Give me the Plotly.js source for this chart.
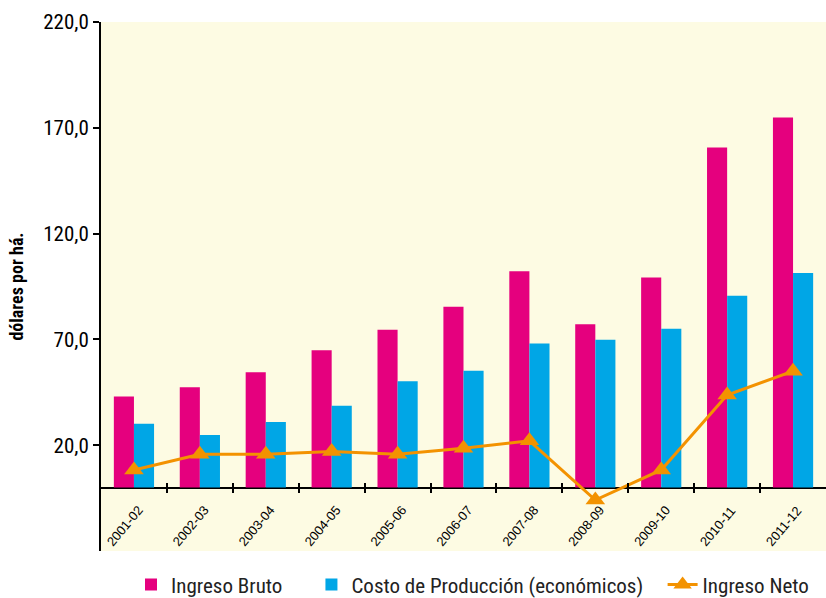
<!DOCTYPE html>
<html>
<head>
<meta charset="utf-8">
<script src="https://cdn.plot.ly/plotly-3.0.1.min.js"></script>
<style>html,body{margin:0;padding:0;background:#fff;}#chart{width:826px;height:598px;}</style>
</head>
<body>
<div id="chart"></div>
<script>
const categories = ["2001-02","2002-03","2003-04","2004-05","2005-06","2006-07","2007-08","2008-09","2009-10","2010-11","2011-12"];
const ingresoBruto = [43.0, 47.4, 54.5, 64.9, 74.6, 85.4, 102.2, 77.2, 99.2, 160.7, 174.9];
const costoProduccion = [30.1, 24.8, 31.0, 38.6, 50.2, 55.2, 68.1, 69.8, 75.0, 90.6, 101.4];
const ingresoNeto = [8.3, 15.7, 15.7, 17.0, 15.7, 18.6, 22.1, -5.9, 8.3, 43.7, 55.0];
const yTicks = [-30, 20, 70, 120, 170, 220];
const seriesNames = ["Ingreso Bruto", "Costo de Producción (económicos)", "Ingreso Neto"];

const PINK = "#E5007E", BLUE = "#00A6E6", ORANGE = "#F39200", CREAM = "#FDFBE3";
const FONT = "'Roboto Condensed', Roboto, 'Liberation Sans', sans-serif";
const NB = "\u00a0";

const boundaryTicks = categories.slice(1).map((c, i) => i + 0.5);

const traces = [
  {type: "bar", name: seriesNames[0] + NB.repeat(5), x: categories, y: ingresoBruto,
   marker: {color: PINK}, hoverinfo: "y"},
  {type: "bar", name: seriesNames[1] + NB.repeat(3), x: categories, y: costoProduccion,
   marker: {color: BLUE}, hoverinfo: "y"},
  {type: "scatter", mode: "lines+markers", name: seriesNames[2], x: categories, y: ingresoNeto,
   line: {color: ORANGE, width: 3}, marker: {symbol: "triangle-up", size: 17, color: ORANGE}},
  {type: "scatter", mode: "markers", x: categories.map((c, i) => i), y: ingresoNeto,
   xaxis: "x2", marker: {opacity: 0}, showlegend: false, hoverinfo: "skip"}
];

const layout = {
  width: 826, height: 598,
  margin: {l: 101, r: 0, t: 22, b: 47},
  paper_bgcolor: "#ffffff",
  plot_bgcolor: CREAM,
  separators: ",.",
  font: {family: FONT, color: "#000", size: 18},
  barmode: "group",
  bargap: 0.39,
  bargroupgap: 0,
  showlegend: true,
  legend: {orientation: "h", x: 0.1586, xanchor: "left", xref: "container",
           y: 0.022, yanchor: "middle", yref: "container",
           font: {family: FONT, size: 21, color: "#222"}, traceorder: "normal",
           itemwidth: 30},
  xaxis: {
    type: "category", range: [-0.5, 10.5],
    showline: false, zeroline: false, showgrid: false,
    ticks: "",
    ticklabelposition: "inside", tickangle: -50, ticklabelshift: -26, ticklabelstandoff: -4,
    tickfont: {family: "'Liberation Sans', Arial, sans-serif", size: 13, color: "#000"}
  },
  xaxis2: {
    overlaying: "x", type: "linear", range: [-0.5, 10.5],
    anchor: "free", position: 0.1295,
    tickmode: "array", tickvals: boundaryTicks,
    ticks: "outside", ticklen: 10, tickwidth: 2, tickcolor: "#000",
    showticklabels: false, showline: false, showgrid: false, zeroline: false
  },
  yaxis: {
    range: [-30, 220],
    tickmode: "array", tickvals: yTicks, tickformat: ".1f",
    showline: true, linecolor: "#000", linewidth: 2,
    ticks: "outside", ticklen: 6, tickwidth: 2, tickcolor: "#000",
    showgrid: false,
    zeroline: true, zerolinecolor: "#000", zerolinewidth: 2,
    tickfont: {family: FONT, size: 21, color: "#000"},
    title: {text: "<b>dólares por há.</b>", font: {family: FONT, size: 18, color: "#000"}, standoff: 15}
  }
};

Plotly.newPlot("chart", traces, layout, {displayModeBar: false, staticPlot: true});
</script>
</body>
</html>
